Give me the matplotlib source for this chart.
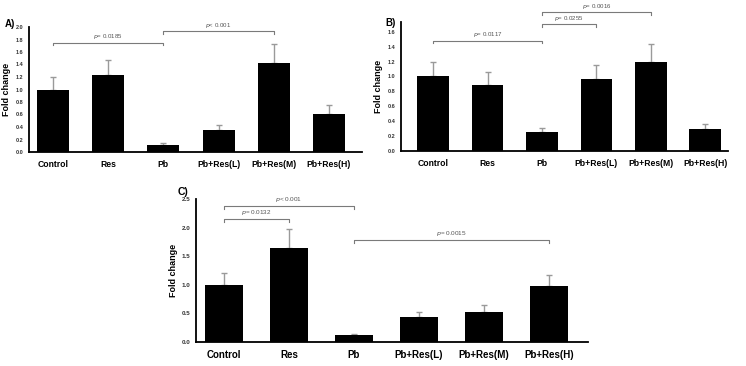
import numpy as np
import matplotlib
matplotlib.use("Agg")
import matplotlib.pyplot as plt

plt.rcParams['font.family'] = ['Liberation Sans', 'DejaVu Sans']

groups = ["Control", "Res", "Pb", "Pb+Res(L)", "Pb+Res(M)", "Pb+Res(H)"]

a_vals = [1.00, 1.23, 0.12, 0.35, 1.43, 0.61]
a_err = [0.20, 0.25, 0.03, 0.08, 0.30, 0.14]
a_ticks = [0.0, 0.2, 0.4, 0.6, 0.8, 1.0, 1.2, 1.4, 1.6, 1.8, 2.0]
a_brackets = [(0, 2, 1.75, "= 0.0185"), (2, 4, 1.93, "< 0.001")]

b_vals = [1.00, 0.88, 0.25, 0.96, 1.19, 0.30]
b_err = [0.20, 0.18, 0.06, 0.20, 0.24, 0.06]
b_ticks = [0.0, 0.2, 0.4, 0.6, 0.8, 1.0, 1.2, 1.4, 1.6]
b_brackets = [(0, 2, 1.48, "= 0.0117"), (2, 3, 1.70, "= 0.0255"), (2, 4, 1.86, "= 0.0016")]

c_vals = [1.00, 1.65, 0.12, 0.43, 0.52, 0.98]
c_err = [0.20, 0.33, 0.02, 0.09, 0.12, 0.20]
c_ticks = [0.0, 0.5, 1.0, 1.5, 2.0, 2.5]
c_brackets = [(0, 1, 2.15, "= 0.0132"), (0, 2, 2.38, "< 0.001"), (2, 5, 1.78, "= 0.0015")]

W, H = 746, 366
fig = plt.figure(figsize=(W / 100, H / 100), dpi=100)


def px_axes(left, top, right, bottom):
    return fig.add_axes([left / W, 1 - bottom / H, (right - left) / W, (bottom - top) / H])


def panel(ax, vals, err, ticks, ymax, xlim, brackets, fs_x, fs_y, fs_lab, fs_p):
    x = np.arange(len(groups))
    ax.bar(x, vals, width=0.58, color="black", zorder=2)
    ax.errorbar(x, vals, yerr=[np.zeros(len(vals)), err], fmt="none",
                ecolor="#9a9a9a", elinewidth=1.0, capsize=2.2, capthick=1.0, zorder=1)
    ax.set_xlim(*xlim)
    ax.set_ylim(0, ymax)
    ax.set_xticks(x)
    ax.set_xticklabels(groups, fontsize=fs_x, fontweight="bold")
    ax.set_yticks(ticks)
    ax.set_yticklabels(["%.1f" % t for t in ticks], fontsize=fs_y, fontweight="bold", color="#333333")
    ax.tick_params(axis="both", length=0, pad=4)
    ax.tick_params(axis="x", pad=6)
    for s in ["top", "right"]:
        ax.spines[s].set_visible(False)
    for s in ["left", "bottom"]:
        ax.spines[s].set_linewidth(1.3)
    ax.set_ylabel("Fold change", fontsize=fs_lab, fontweight="bold", labelpad=3)
    d = ymax * 0.02
    for i0, i1, yb, txt in brackets:
        ax.plot([i0, i0, i1, i1], [yb - d, yb, yb, yb - d], color="#7a7a7a", lw=0.8, clip_on=False)
        ax.text((i0 + i1) / 2, yb + ymax * 0.012, "$p$" + txt, ha="center", va="bottom",
                fontsize=fs_p, color="#555555")
    return ax


axA = px_axes(29, 27, 362, 152)
panel(axA, a_vals, a_err, a_ticks, 2.0, (-0.435, 5.6), a_brackets, 6.2, 4.0, 6.5, 4.4)
fig.text(5 / W, 1 - 24 / H, "A)", fontsize=7, fontweight="bold", va="center")

axB = px_axes(401, 22, 728, 151)
panel(axB, b_vals, b_err, b_ticks, 1.73, (-0.59, 5.42), b_brackets, 6.2, 4.0, 6.5, 4.4)
fig.text(385 / W, 1 - 23 / H, "B)", fontsize=7, fontweight="bold", va="center")

axC = px_axes(196, 199, 588, 342)
panel(axC, c_vals, c_err, c_ticks, 2.5, (-0.43, 5.6), c_brackets, 7.0, 4.5, 6.5, 4.6)
fig.text(178 / W, 1 - 192 / H, "C)", fontsize=7.5, fontweight="bold", va="center")

fig.savefig("out.png", dpi=100)
